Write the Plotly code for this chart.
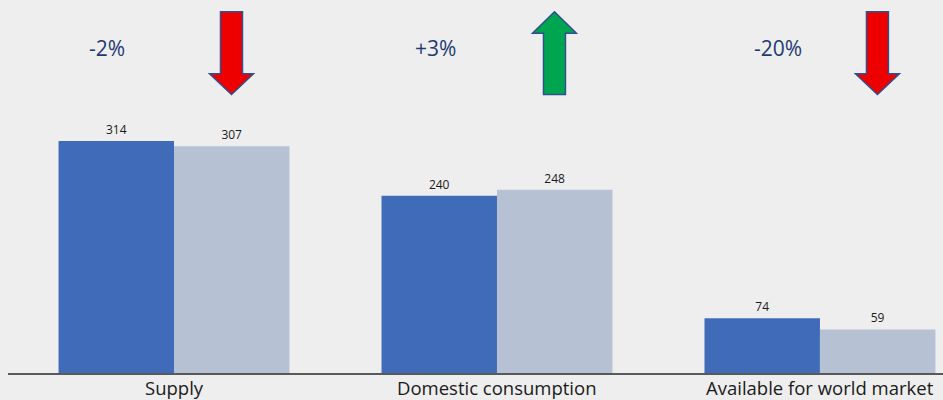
import plotly.graph_objects as go

categories = ["Supply", "Domestic consumption", "Available for world market"]
series_prev = [314, 240, 74]
series_curr = [307, 248, 59]
change_labels = ["-2%", "+3%", "-20%"]
change_dir = ["down", "up", "down"]

BLUE = "#3F6BB8"
GREY = "#B6C2D4"
BG = "#EEEEEE"

fig = go.Figure()
fig.add_bar(x=categories, y=series_prev, marker_color=BLUE, marker_line_width=0,
            text=[str(v) for v in series_prev], textposition="outside",
            textfont=dict(size=12, color="#1a1a1a", family="Open Sans, Arial"),
            cliponaxis=False)
fig.add_bar(x=categories, y=series_curr, marker_color=GREY, marker_line_width=0,
            text=[str(v) for v in series_curr], textposition="outside",
            textfont=dict(size=12, color="#1a1a1a", family="Open Sans, Arial"),
            cliponaxis=False)

# category labels as annotations for precise placement just under the axis
for cat in categories:
    fig.add_annotation(x=cat, y=0, xref="x", yref="paper", text=cat,
                       showarrow=False, yanchor="top", yshift=-1, borderpad=0,
                       font=dict(size=18.5, color="#1a1a1a", family="Open Sans, Arial"))

label_dx = [-0.207, -0.19, -0.13]
for i, (lab, d) in enumerate(zip(change_labels, change_dir)):
    fig.add_annotation(x=i + label_dx[i], y=440, xref="x", yref="y", text=lab,
                       showarrow=False,
                       font=dict(size=21, color="#1F3A73", family="Open Sans, Arial"))
    cx = i + 0.178
    sw = 0.034
    hw = 0.068
    if d == "down":
        top, neck, tip = 489, 405, 377
        path = (f"M {cx-sw},{top} L {cx+sw},{top} L {cx+sw},{neck} L {cx+hw},{neck} "
                f"L {cx},{tip} L {cx-hw},{neck} L {cx-sw},{neck} Z")
        fill = "#EE0000"
    else:
        tip, neck, bot = 489, 460, 377
        path = (f"M {cx-sw},{bot} L {cx+sw},{bot} L {cx+sw},{neck} L {cx+hw},{neck} "
                f"L {cx},{tip} L {cx-hw},{neck} L {cx-sw},{neck} Z")
        fill = "#00A54F"
    fig.add_shape(type="path", path=path, xref="x", yref="y", fillcolor=fill,
                  line=dict(color="#2F4F8F", width=1.5), layer="above")

fig.update_layout(
    width=943, height=400,
    margin=dict(l=8, r=0, t=0, b=27, autoexpand=False),
    paper_bgcolor=BG, plot_bgcolor=BG,
    barmode="group", bargap=0.285, bargroupgap=0,
    showlegend=False,
    xaxis=dict(range=[-0.514, 2.381], showgrid=False, showline=True,
               automargin=False, showticklabels=False,
               linecolor="#595959", linewidth=2, ticks=""),
    yaxis=dict(range=[0, 505], visible=False, showgrid=False, automargin=False),
)

fig.write_html("out.html")
